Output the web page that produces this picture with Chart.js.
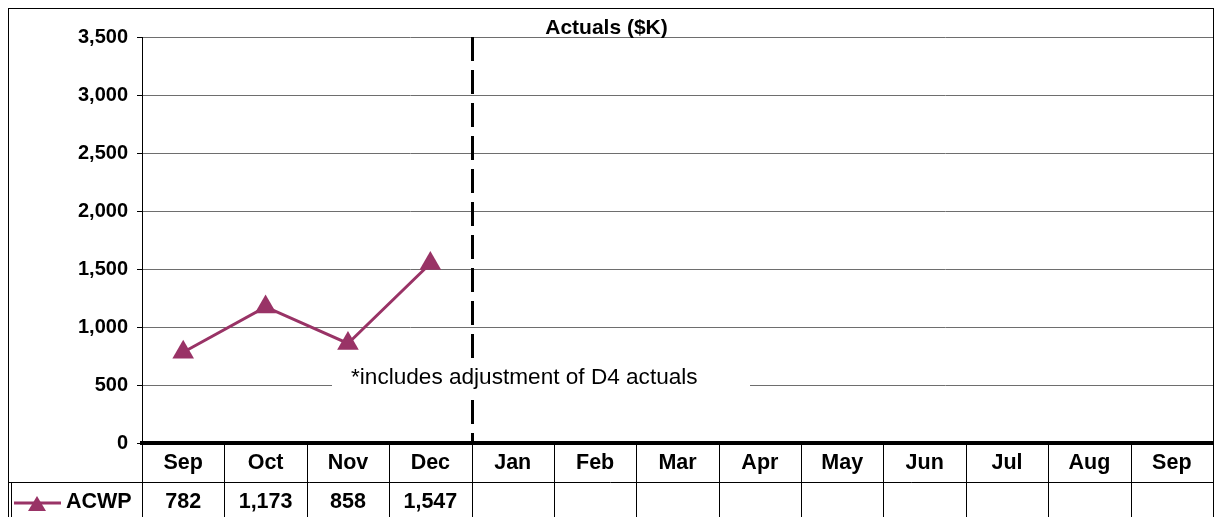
<!DOCTYPE html>
<html>
<head>
<meta charset="utf-8">
<script src="https://cdn.jsdelivr.net/npm/chart.js@4/dist/chart.umd.min.js"></script>
<style>
  html, body { margin: 0; padding: 0; background: #fff; }
  #wrap { width: 1216px; height: 517px; }
</style>
</head>
<body>
<div id="wrap"><canvas id="actuals" width="1216" height="517"></canvas></div>
<script>
// Actuals ($K) - ACWP by month with data table underneath

const months = ['Sep', 'Oct', 'Nov', 'Dec', 'Jan', 'Feb', 'Mar', 'Apr', 'May', 'Jun', 'Jul', 'Aug', 'Sep'];
const acwp = [782, 1173, 858, 1547, null, null, null, null, null, null, null, null, null];
const seriesName = 'ACWP';
const chartTitle = 'Actuals ($K)';
const note = '*includes adjustment of D4 actuals';
const noteValue = 500;          // note sits on the 500 gridline
const dividerAfter = 3;         // dashed line after Dec
const yMin = 0;
const yMax = 3500;
const yStep = 500;

const FONT = '"Liberation Sans", Arial, sans-serif';
const PLUM = '#993366';

// draws the dashed divider, the note box, the data table and the outer frame
const tablePlugin = {
    id: 'tablePlugin',
    beforeDraw(chart) {
        const ctx = chart.ctx;
        ctx.save();
        ctx.fillStyle = '#fff';
        ctx.fillRect(0, 0, chart.width, chart.height);
        ctx.restore();
    },
    afterDatasetsDraw(chart) {
        const ctx = chart.ctx;
        const x = chart.scales.x;
        const y = chart.scales.y;
        const area = chart.chartArea;

        // dashed divider between Dec and Jan
        const dx = Math.round((x.getPixelForValue(dividerAfter) + x.getPixelForValue(dividerAfter + 1)) / 2) + 0.5;
        ctx.save();
        ctx.strokeStyle = '#000';
        ctx.lineWidth = 3;
        ctx.setLineDash([24, 9]);
        ctx.beginPath();
        ctx.moveTo(dx, area.top);
        ctx.lineTo(dx, area.bottom);
        ctx.stroke();
        ctx.restore();

        // note with white box over the gridline
        const ny = y.getPixelForValue(noteValue) - 7;
        ctx.save();
        ctx.fillStyle = '#fff';
        ctx.fillRect(332, ny - 15, 418, 30);
        ctx.fillStyle = '#000';
        ctx.font = '22.6px ' + FONT;
        ctx.textBaseline = 'middle';
        ctx.textAlign = 'left';
        ctx.fillText(note, 351, ny);
        ctx.restore();
    },
    afterDraw(chart) {
        const ctx = chart.ctx;
        const x = chart.scales.x;
        const area = chart.chartArea;
        const rowTop = area.bottom + 39;
        const rowMid = rowTop + 19;
        const bottom = chart.height + 10;
        const half = (x.getPixelForValue(1) - x.getPixelForValue(0)) / 2;

        ctx.save();
        ctx.strokeStyle = '#000';
        ctx.lineWidth = 1;

        // column separators
        for (let i = 0; i <= months.length; i++) {
            const px = Math.round(x.getPixelForValue(0) - half + i * half * 2) + 0.5;
            ctx.beginPath();
            ctx.moveTo(px, area.bottom + 2);
            ctx.lineTo(px, bottom);
            ctx.stroke();
        }

        // row separator
        ctx.beginPath();
        ctx.moveTo(8, rowTop + 0.5);
        ctx.lineTo(area.right, rowTop + 0.5);
        ctx.stroke();

        // legend cell border
        ctx.beginPath();
        ctx.moveTo(11.5, rowTop);
        ctx.lineTo(11.5, bottom);
        ctx.stroke();

        // outer frame
        ctx.strokeRect(8.5, 8.5, Math.round(area.right) - 8, bottom);

        // legend key
        ctx.strokeStyle = PLUM;
        ctx.lineWidth = 3;
        ctx.beginPath();
        ctx.moveTo(14, rowMid + 2);
        ctx.lineTo(61, rowMid + 2);
        ctx.stroke();
        ctx.fillStyle = PLUM;
        ctx.beginPath();
        ctx.moveTo(37, rowMid - 5);
        ctx.lineTo(46, rowMid + 10);
        ctx.lineTo(28, rowMid + 10);
        ctx.closePath();
        ctx.fill();

        ctx.fillStyle = '#000';
        ctx.font = 'bold 21.5px ' + FONT;
        ctx.textBaseline = 'middle';
        ctx.textAlign = 'left';
        ctx.fillText(seriesName, 66, rowMid + 1);

        // values row
        ctx.textAlign = 'center';
        acwp.forEach((v, i) => {
            if (v === null) return;
            ctx.fillText(v.toLocaleString('en-US'), x.getPixelForValue(i), rowMid + 1);
        });
        ctx.restore();
    }
};

const ctx = document.getElementById('actuals').getContext('2d');
const actualsChart = new Chart(ctx, {
    type: 'line',
    data: {
        labels: months,
        datasets: [{
            label: seriesName,
            data: acwp,
            borderColor: PLUM,
            backgroundColor: PLUM,
            borderWidth: 3,
            pointStyle: 'triangle',
            pointRadius: 12.5,
            pointBorderWidth: 0,
            pointBackgroundColor: PLUM,
            tension: 0,
        }],
    },
    options: {
        responsive: false,
        animation: false,
        devicePixelRatio: 1,
        layout: {
            autoPadding: false,
            padding: { left: 0, right: 3, top: 0, bottom: 0 },
        },
        plugins: {
            legend: { display: false },
            tooltip: { enabled: false },
            title: {
                display: true,
                text: chartTitle,
                color: '#000',
                font: { family: FONT, size: 21, weight: 'bold' },
                padding: { top: 15.4, bottom: -3.6 },
            },
        },
        scales: {
            x: {
                offset: true,
                grid: { display: false, drawTicks: false },
                border: { display: true, color: '#000', width: 4 },
                ticks: {
                    color: '#000',
                    font: { family: FONT, size: 21.5, weight: 'bold' },
                    padding: 7,
                    maxRotation: 0,
                    autoSkip: false,
                },
                afterFit(scale) {
                    scale.height = 74;
                    scale.paddingLeft = 0;
                    scale.paddingRight = 0;
                },
            },
            y: {
                min: yMin,
                max: yMax,
                grid: {
                    color: '#6e6e6e',
                    lineWidth: 1,
                    tickLength: 5,
                    tickColor: '#000',
                },
                border: { display: true, color: '#000', width: 1 },
                ticks: {
                    stepSize: yStep,
                    color: '#000',
                    font: { family: FONT, size: 20, weight: 'bold' },
                    padding: 9,
                    callback: (v) => v.toLocaleString('en-US'),
                },
                afterFit(scale) {
                    scale.width = 142;
                },
            },
        },
    },
    plugins: [tablePlugin],
});
</script>
</body>
</html>
